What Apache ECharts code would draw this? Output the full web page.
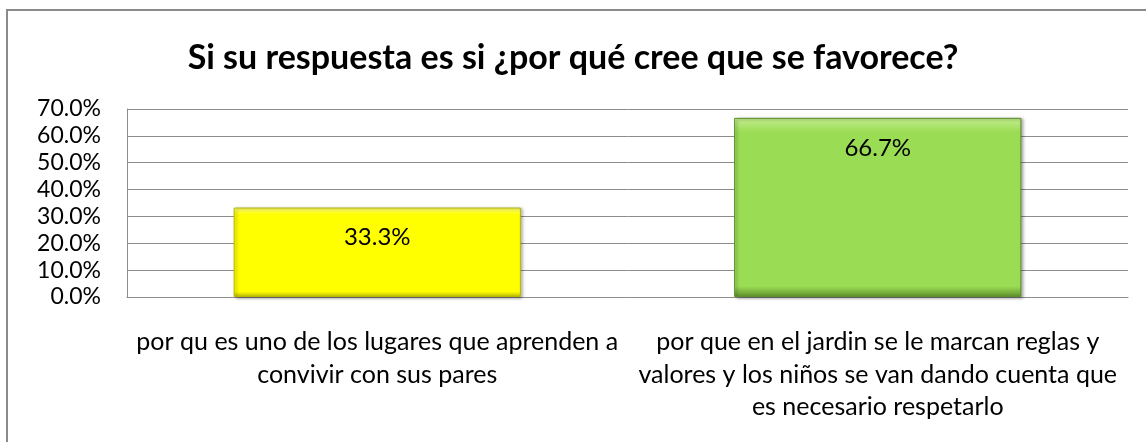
<!DOCTYPE html>
<html>
<head>
<meta charset="utf-8">
<script src="https://cdn.jsdelivr.net/npm/echarts@6/dist/echarts.min.js"></script>
<style>
  html, body { margin: 0; padding: 0; background: #fff; }
  #chart { width: 1146px; height: 442px; }
</style>
</head>
<body>
<div id="chart"></div>
<script>
// Survey answers and their shares
const titleText = 'Si su respuesta es si ¿por qué cree que se favorece?';
const categories = [
  'por qu es uno de los lugares que aprenden a\nconvivir con sus pares',
  'por que en el jardin se le marcan reglas y\nvalores y los niños se van dando cuenta que\nes necesario respetarlo'
];
const shares = [0.333, 0.667];
const barColors = [
  { main: '#FFFF00', light: '#FFFF80', dark: '#B8B800' },
  { main: '#9BDC55', light: '#C4EE8E', dark: '#5E8F2A' }
];
const yMin = 0, yMax = 0.7, yStep = 0.1;

const FONT = 'Lato, "Open Sans", sans-serif';
const pct = v => (v * 100).toFixed(1) + '%';

const chart = echarts.init(document.getElementById('chart'), null, { renderer: 'canvas' });

chart.setOption({
  animation: false,
  backgroundColor: '#ffffff',
  title: {
    text: titleText,
    left: 'center',
    top: 36,
    textStyle: { fontFamily: FONT, fontWeight: 'bold', fontSize: 34, color: '#000' }
  },
  graphic: [{
    type: 'rect',
    shape: { x: 7, y: 10, width: 1200, height: 500 },
    style: { fill: null, stroke: '#8a8a8a', lineWidth: 2 },
    silent: true
  }],
  grid: { left: 127, right: 18, top: 109, bottom: 145, containLabel: false },
  xAxis: {
    type: 'category',
    data: categories,
    axisTick: { show: false },
    axisLine: { show: true, lineStyle: { color: '#8c8c8c', width: 1 } },
    axisLabel: {
      interval: 0,
      margin: 29,
      fontFamily: FONT,
      fontSize: 25,
      lineHeight: 32.5,
      color: '#000',
      align: 'center'
    }
  },
  yAxis: {
    type: 'value',
    min: yMin,
    max: yMax,
    interval: yStep,
    axisLine: { show: true, lineStyle: { color: '#8c8c8c', width: 1 } },
    axisTick: { show: false },
    splitLine: { show: true, lineStyle: { color: '#8c8c8c', width: 1 } },
    axisLabel: {
      margin: 26,
      fontFamily: FONT,
      fontSize: 23,
      color: '#000',
      formatter: v => pct(v)
    }
  },
  series: [{
    type: 'bar',
    barWidth: '57.4%',
    data: shares.map((v, i) => ({
      value: v,
      itemStyle: {
        color: {
          type: 'linear', x: 0, y: 0, x2: 0, y2: 1,
          colorStops: [
            { offset: 0, color: barColors[i].light },
            { offset: 0.08, color: barColors[i].main },
            { offset: 0.94, color: barColors[i].main },
            { offset: 1, color: barColors[i].dark }
          ]
        },
        borderColor: barColors[i].dark,
        borderWidth: 1,
        shadowColor: 'rgba(0,0,0,0.35)',
        shadowBlur: 3,
        shadowOffsetX: 2,
        shadowOffsetY: 1
      }
    })),
    label: {
      show: true,
      position: 'insideTop',
      distance: 18,
      fontFamily: FONT,
      fontSize: 24,
      color: '#000',
      formatter: p => pct(p.value)
    }
  }]
});
</script>
</body>
</html>
